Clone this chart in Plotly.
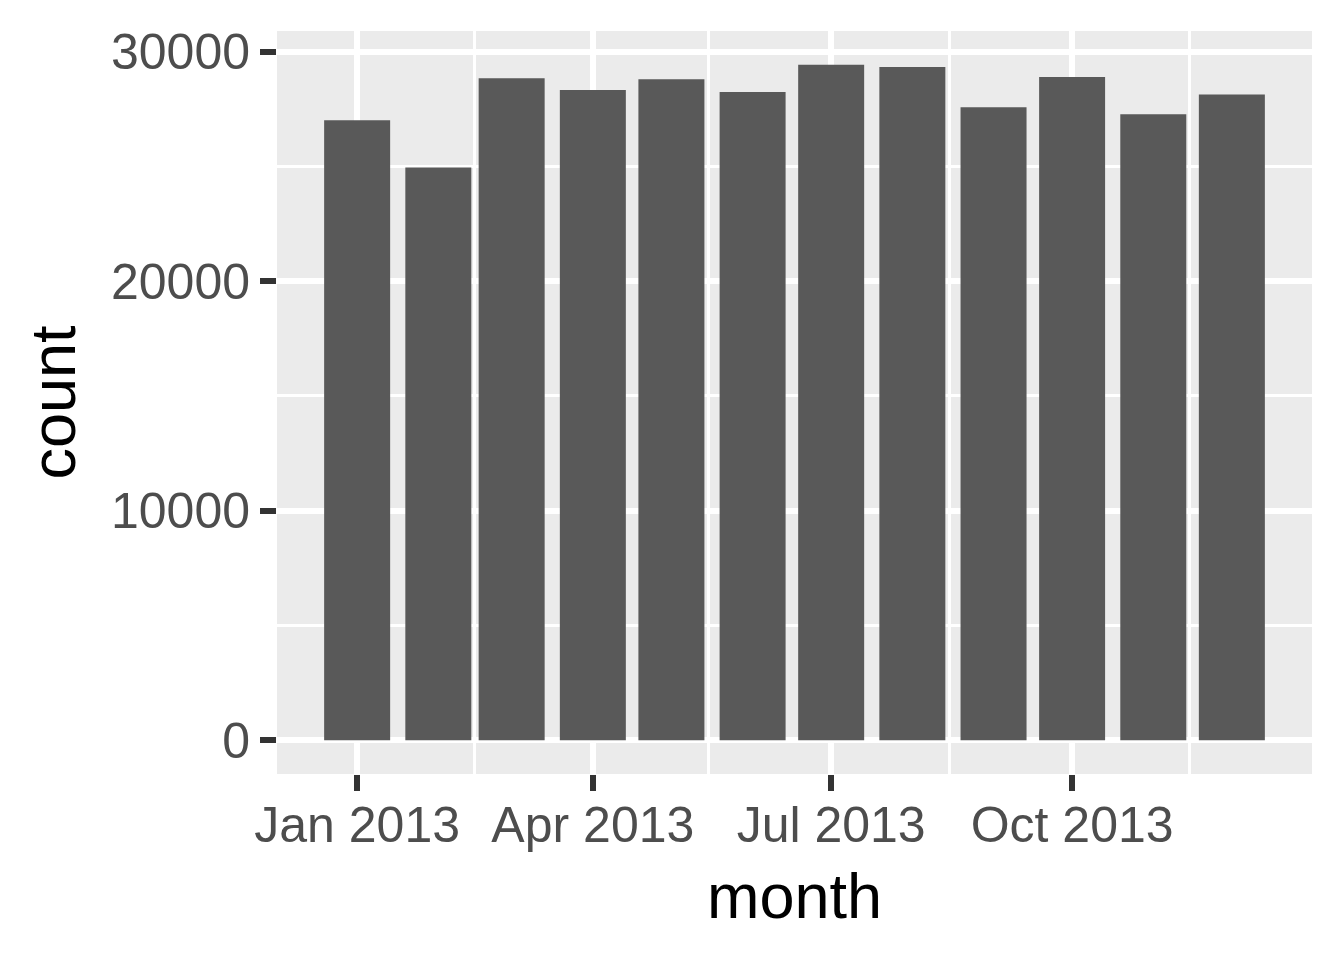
import plotly.graph_objects as go

# flights per month, 2013
months = ["2013-01-01", "2013-02-01", "2013-03-01", "2013-04-01",
          "2013-05-01", "2013-06-01", "2013-07-01", "2013-08-01",
          "2013-09-01", "2013-10-01", "2013-11-01", "2013-12-01"]
counts = [27004, 24951, 28834, 28330, 28796, 28243,
          29425, 29327, 27574, 28889, 27268, 28135]
y_ticks = [0, 10000, 20000, 30000]

DAY_MS = 86400000
BAR_WIDTH = 0.9 * 28 * DAY_MS  # ggplot default: 0.9 * resolution

fig = go.Figure(
    go.Bar(
        x=months, y=counts,
        width=[BAR_WIDTH] * len(months),
        marker=dict(color="#595959", line=dict(width=0)),
    )
)

font = "Liberation Sans, Arial, sans-serif"
# page body has an 8px default margin, so the figure is 8px smaller
fig.update_layout(
    width=1336, height=952,
    margin=dict(l=269, r=32, t=23, b=186),
    paper_bgcolor="white",
    plot_bgcolor="#EBEBEB",
    showlegend=False,
    font=dict(family=font, color="#4D4D4D", size=50),
)
fig.update_xaxes(
    type="date",
    range=["2012-12-01 09:36", "2013-12-31 14:24"],
    tick0="2013-01-01", dtick="M3", tickformat="%b %Y",
    ticks="outside", ticklen=16, tickwidth=5.5, tickcolor="#333333",
    ticklabelstandoff=-9,
    showgrid=True, gridcolor="white", gridwidth=5.5,
    minor=dict(tick0="2013-02-15", dtick="M3", showgrid=True,
               gridcolor="white", gridwidth=3, ticks=""),
    zeroline=False, showline=False,
    tickfont=dict(size=50, color="#4D4D4D"),
    title=dict(text="month", font=dict(size=63, color="black"), standoff=21),
)
fig.update_yaxes(
    range=[-1471, 30896],
    tickvals=y_ticks, ticktext=[str(v) for v in y_ticks],
    ticks="outside", ticklen=16, tickwidth=5.5, tickcolor="#333333",
    showgrid=True, gridcolor="white", gridwidth=5.5,
    minor=dict(tickvals=[5000, 15000, 25000], showgrid=True,
               gridcolor="white", gridwidth=3, ticks=""),
    zeroline=False, showline=False,
    tickfont=dict(size=50, color="#4D4D4D"),
    title=dict(text="count", font=dict(size=63, color="black"), standoff=14),
)

fig.write_html("out.html")
